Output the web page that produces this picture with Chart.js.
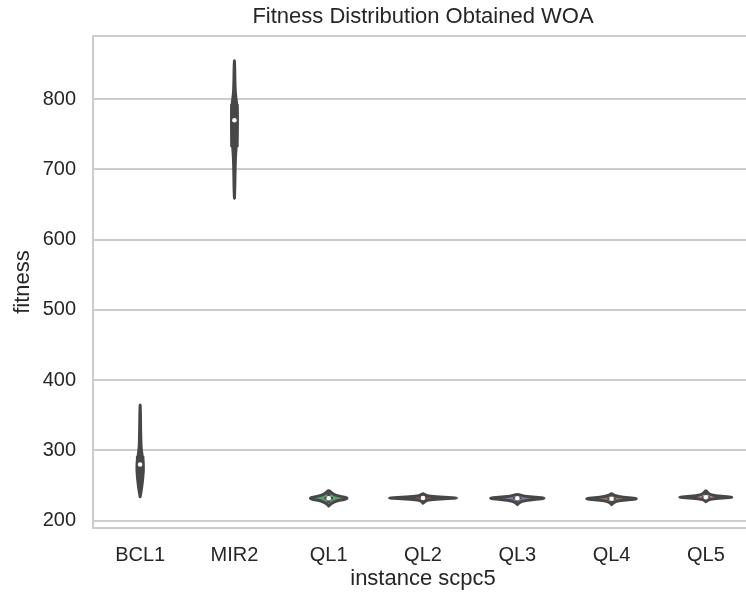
<!DOCTYPE html>
<html>
<head>
<meta charset="utf-8">
<script src="https://cdn.jsdelivr.net/npm/chart.js@4.4.1/dist/chart.umd.min.js"></script>
<style>
  html, body { margin: 0; padding: 0; background: #fff; overflow: hidden; }
  canvas { display: block; }
</style>
</head>
<body>
<canvas id="violin" width="846" height="599"></canvas>
<script>
// instances along the x axis
const instances = ['BCL1', 'MIR2', 'QL1', 'QL2', 'QL3', 'QL4', 'QL5'];
const fitnessTicks = [200, 300, 400, 500, 600, 700, 800];

// box statistics per instance
const medians   = [280, 770, 231.9, 232.3, 231.9, 231.3, 233.3];
const q1s       = [268, 732, 230.2, 231.2, 230.6, 230.1, 232.1];
const q3s       = [292, 793, 233.8, 233.5, 233.2, 232.7, 234.6];
const whiskLow  = [240, 668, 225.5, 228.0, 227.0, 226.0, 229.0];
const whiskHigh = [330, 850, 240.0, 236.5, 236.0, 236.0, 240.0];

// density outline: fitness levels and half widths (fraction of a category band)
const bcl1Levels = [234, 240, 248, 256, 264, 272, 280, 287, 294, 300, 308, 318, 330, 345, 358, 367];
const bcl1Widths = [0, 0.008, 0.017, 0.024, 0.030, 0.033, 0.033, 0.028, 0.020, 0.013, 0.009, 0.007, 0.005, 0.004, 0.002, 0];
const mir2Levels = [659, 670, 685, 700, 715, 728, 740, 752, 764, 776, 788, 798, 808, 820, 835, 848, 857];
const mir2Widths = [0, 0.003, 0.005, 0.007, 0.010, 0.016, 0.024, 0.028, 0.030, 0.030, 0.028, 0.020, 0.010, 0.006, 0.004, 0.002, 0];
const ql1Levels = [221, 225, 228, 230, 231.9, 234, 236, 239, 244];
const ql1Widths = [0, 0.03, 0.08, 0.15, 0.21, 0.15, 0.08, 0.03, 0];
const ql2Levels = [225, 228, 230, 231.3, 232.3, 233.3, 234.6, 236.5, 239];
const ql2Widths = [0, 0.02, 0.07, 0.22, 0.40, 0.22, 0.07, 0.02, 0];
const ql3Levels = [223, 226, 228.5, 230.5, 231.9, 233.3, 235, 238];
const ql3Widths = [0, 0.02, 0.07, 0.20, 0.31, 0.20, 0.07, 0];
const ql4Levels = [223, 226, 228.5, 230, 231.3, 232.6, 234.5, 236.5, 239];
const ql4Widths = [0, 0.02, 0.07, 0.18, 0.29, 0.18, 0.07, 0.02, 0];
const ql5Levels = [227, 229.5, 231.5, 232.5, 233.3, 234.3, 236, 239, 244];
const ql5Widths = [0, 0.02, 0.08, 0.20, 0.30, 0.20, 0.07, 0.02, 0];

const levels = [bcl1Levels, mir2Levels, ql1Levels, ql2Levels, ql3Levels, ql4Levels, ql5Levels];
const widths = [bcl1Widths, mir2Widths, ql1Widths, ql2Widths, ql3Widths, ql4Widths, ql5Widths];

const fills = ['#5975a4', '#cc8963', '#5f9e6e', '#b55d60', '#857aab', '#8d7866', '#d095bf'];
const edge = '#474747';
const textColor = '#262626';
const font = 'Liberation Sans, Arial, sans-serif';

function smoothPath(ctx, pts) {
  ctx.moveTo(pts[0].x, pts[0].y);
  for (let k = 1; k < pts.length - 1; k++) {
    const mx = (pts[k].x + pts[k + 1].x) / 2;
    const my = (pts[k].y + pts[k + 1].y) / 2;
    ctx.quadraticCurveTo(pts[k].x, pts[k].y, mx, my);
  }
  const last = pts[pts.length - 1];
  ctx.lineTo(last.x, last.y);
}

const violinPlugin = {
  id: 'violins',
  beforeDatasetsDraw(chart) {
    const { ctx, chartArea, scales } = chart;
    const x = scales.x, y = scales.y;

    // frame (all four spines)
    ctx.save();
    ctx.strokeStyle = '#cccccc';
    ctx.lineWidth = 2;
    ctx.strokeRect(chartArea.left, chartArea.top, chartArea.right - chartArea.left, chartArea.bottom - chartArea.top);
    ctx.restore();

    const band = x.getPixelForValue(1) - x.getPixelForValue(0);
    ctx.save();
    instances.forEach((name, i) => {
      const xc = x.getPixelForValue(i);
      const lv = levels[i], wd = widths[i];
      const right = lv.map((v, k) => ({ x: xc + wd[k] * band, y: y.getPixelForValue(v) }));
      const left = lv.map((v, k) => ({ x: xc - wd[k] * band, y: y.getPixelForValue(v) })).reverse();
      const pts = right.concat(left.slice(1));

      ctx.beginPath();
      smoothPath(ctx, pts);
      ctx.closePath();
      ctx.fillStyle = fills[i];
      ctx.fill();
      ctx.lineWidth = 3;
      ctx.lineJoin = 'round';
      ctx.strokeStyle = edge;
      ctx.stroke();

      // whiskers
      ctx.beginPath();
      ctx.lineCap = 'butt';
      ctx.lineWidth = 3;
      ctx.moveTo(xc, y.getPixelForValue(whiskLow[i]));
      ctx.lineTo(xc, y.getPixelForValue(whiskHigh[i]));
      ctx.stroke();

      // interquartile box
      ctx.beginPath();
      ctx.lineWidth = 8.5;
      ctx.moveTo(xc, y.getPixelForValue(q1s[i]));
      ctx.lineTo(xc, y.getPixelForValue(q3s[i]));
      ctx.stroke();
    });
    ctx.restore();
  }
};

new Chart(document.getElementById('violin'), {
  type: 'line',
  data: {
    labels: instances,
    datasets: [{
      label: 'median',
      data: medians,
      showLine: false,
      pointRadius: 2.3,
      pointHoverRadius: 2.3,
      pointBorderWidth: 0,
      pointBackgroundColor: '#ffffff'
    }]
  },
  options: {
    responsive: false,
    animation: false,
    layout: { padding: { right: 93 } },
    plugins: {
      legend: { display: false },
      tooltip: { enabled: false },
      title: {
        display: true,
        fullSize: false,
        text: 'Fitness Distribution Obtained WOA',
        color: textColor,
        font: { family: font, size: 22, weight: 'normal' },
        padding: { top: 4, bottom: 5.6 }
      }
    },
    scales: {
      x: {
        offset: true,
        grid: { display: false },
        border: { display: false },
        ticks: { color: textColor, font: { family: font, size: 20 }, padding: 7 },
        title: { display: true, text: 'instance scpc5', color: textColor, font: { family: font, size: 22 }, padding: { top: 0, bottom: 7 } },
        afterFit(s) { s.height = 71; }
      },
      y: {
        min: 189.6,
        max: 890,
        grid: { color: '#cccccc', lineWidth: 2, drawTicks: false },
        border: { display: false },
        ticks: { color: textColor, font: { family: font, size: 20 }, padding: 17 },
        afterBuildTicks(s) { s.ticks = fitnessTicks.map(v => ({ value: v })); },
        title: { display: true, text: 'fitness', color: textColor, font: { family: font, size: 22 }, padding: { top: 10, bottom: 0 } },
        afterFit(s) { s.width = 93; }
      }
    }
  },
  plugins: [violinPlugin]
});
</script>
</body>
</html>
